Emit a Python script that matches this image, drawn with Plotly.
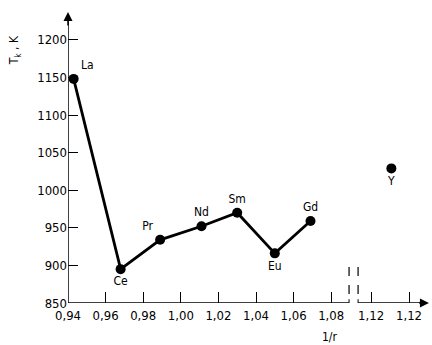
import plotly.graph_objects as go

# Data
elements = ["La", "Ce", "Pr", "Nd", "Sm", "Eu", "Gd"]
inv_r = [0.943, 0.968, 0.989, 1.011, 1.030, 1.050, 1.069]
tk = [1148, 895, 934, 952, 970, 916, 959]
label_pos = ["top right", "bottom center", "top left", "top center",
             "top center", "bottom center", "top center"]

y_label = ["Y"]
y_inv_r = [1.112]   # beyond the axis break
y_tk = [1029]

x_tickvals = [0.94, 0.96, 0.98, 1.00, 1.02, 1.04, 1.06, 1.08, 1.1012, 1.1214]
x_ticktext = ["0,94", "0,96", "0,98", "1,00", "1,02", "1,04", "1,06", "1,08", "1,12", "1,12"]
y_tickvals = [850, 900, 950, 1000, 1050, 1100, 1150, 1200]

FONT = "DejaVu Sans Condensed, DejaVu Sans, sans-serif"

fig = go.Figure()
fig.add_trace(go.Scatter(
    x=inv_r, y=tk, mode="lines+markers+text", text=elements,
    textposition=label_pos,
    textfont=dict(size=12, color="black", family=FONT),
    line=dict(color="black", width=2.8),
    marker=dict(color="black", size=10),
    showlegend=False, cliponaxis=False))
fig.add_trace(go.Scatter(
    x=y_inv_r, y=y_tk, mode="markers+text", text=y_label,
    textposition="bottom center",
    textfont=dict(size=12, color="black", family=FONT),
    marker=dict(color="black", size=10),
    showlegend=False, cliponaxis=False))

x_break_l, x_break_r = 1.0895, 1.0943
x_end = 1.1320
y_top = 1237

shapes = [
    dict(type="line", xref="x", yref="y", x0=0.94, x1=x_break_l, y0=850, y1=850,
         line=dict(color="black", width=1.5)),
    dict(type="line", xref="x", yref="y", x0=x_break_r, x1=x_end - 0.002, y0=850, y1=850,
         line=dict(color="black", width=1.5)),
    dict(type="line", xref="x", yref="y", x0=x_break_l, x1=x_break_l, y0=845, y1=855,
         line=dict(color="black", width=1)),
    dict(type="line", xref="x", yref="y", x0=x_break_r, x1=x_break_r, y0=845, y1=855,
         line=dict(color="black", width=1)),
    dict(type="line", xref="x", yref="y", x0=x_break_l, x1=x_break_l, y0=862, y1=898,
         line=dict(color="black", width=1.2, dash="dash")),
    dict(type="line", xref="x", yref="y", x0=x_break_r, x1=x_break_r, y0=862, y1=898,
         line=dict(color="black", width=1.2, dash="dash")),
    dict(type="line", xref="x", yref="y", x0=0.94, x1=0.94, y0=850, y1=y_top - 5,
         line=dict(color="black", width=1.5)),
]

annotations = [
    dict(x=x_end, y=850, ax=x_end - 0.006, ay=850, xref="x", yref="y",
         axref="x", ayref="y", showarrow=True, arrowhead=2, arrowsize=1.2,
         arrowwidth=1.5, arrowcolor="black", text=""),
    dict(x=0.94, y=y_top, ax=0.94, ay=y_top - 20, xref="x", yref="y",
         axref="x", ayref="y", showarrow=True, arrowhead=2, arrowsize=1.2,
         arrowwidth=1.5, arrowcolor="black", text=""),
    dict(x=-0.146, y=0.863, xref="paper", yref="paper", xanchor="center",
         yanchor="middle", text="T<sub>k</sub> , K",
         showarrow=False, textangle=-90, font=dict(size=12, color="black", family=FONT)),
    dict(x=262 / 362, y=-0.117, xref="paper", yref="paper", xanchor="center",
         yanchor="middle", text="1/r", showarrow=False,
         font=dict(size=12, color="black", family=FONT)),
]

fig.update_layout(
    width=432, height=345,
    margin=dict(l=68, r=2, t=10, b=42),
    plot_bgcolor="white", paper_bgcolor="white",
    shapes=shapes, annotations=annotations,
    font=dict(family=FONT, color="black", size=13),
    xaxis=dict(range=[0.94, 0.94 + 362 / 1880], showgrid=False, zeroline=False,
               showline=False, tickmode="array", tickvals=x_tickvals,
               ticktext=x_ticktext, ticks="inside", ticklen=11, tickwidth=1,
               tickcolor="black", tickfont=dict(size=13, family=FONT),
               ticklabelstandoff=3, automargin=False),
    yaxis=dict(range=[850, 850 + 293 / 0.752], showgrid=False, zeroline=False,
               showline=False, tickmode="array", tickvals=y_tickvals,
               ticks="inside", ticklen=10, tickwidth=1, tickcolor="black",
               tickfont=dict(size=13, family=FONT), automargin=False),
)

fig.write_html("out.html", config={"displayModeBar": False},
               post_script="document.body.style.margin='0';")
